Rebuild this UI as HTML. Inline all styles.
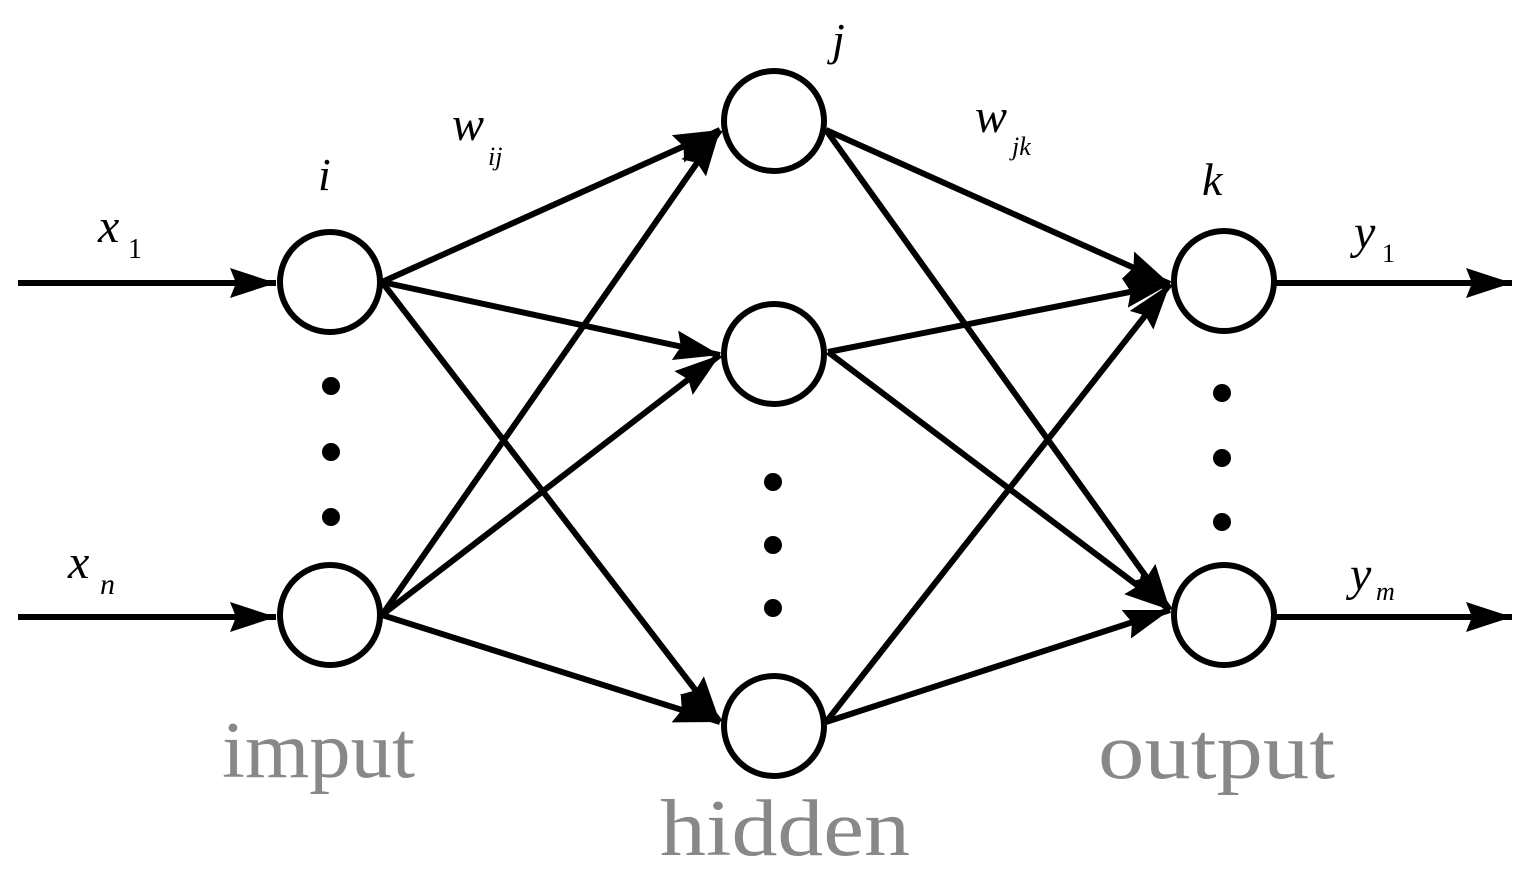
<!DOCTYPE html>
<html><head><style>html,body{margin:0;padding:0;background:#fff}svg{display:block}</style></head>
<body>
<svg width="1528" height="877" viewBox="0 0 1528 877" xmlns="http://www.w3.org/2000/svg">
<defs>
<marker id="a" markerUnits="userSpaceOnUse" markerWidth="50" markerHeight="32" refX="46" refY="15" orient="auto">
<path d="M0,0 L46,15 L0,30 L6,15 Z" fill="#000"/>
</marker>
</defs>
<g stroke="#000" stroke-width="6" fill="none">
<!-- inputs -->
<line x1="18" y1="283" x2="276" y2="283" marker-end="url(#a)"/>
<line x1="18" y1="617" x2="276" y2="617" marker-end="url(#a)"/>
<!-- input to hidden -->
<line x1="382" y1="282" x2="720" y2="130" marker-end="url(#a)"/>
<line x1="382" y1="282" x2="720" y2="355" marker-end="url(#a)"/>
<line x1="382" y1="282" x2="720" y2="722" marker-end="url(#a)"/>
<line x1="382" y1="615" x2="720" y2="130" marker-end="url(#a)"/>
<line x1="382" y1="615" x2="720" y2="355" marker-end="url(#a)"/>
<line x1="382" y1="615" x2="720" y2="722" marker-end="url(#a)"/>
<!-- hidden to output -->
<line x1="826" y1="130" x2="1170" y2="284" marker-end="url(#a)"/>
<line x1="826" y1="130" x2="1170" y2="610" marker-end="url(#a)"/>
<line x1="828" y1="352" x2="1170" y2="284" marker-end="url(#a)"/>
<line x1="828" y1="352" x2="1170" y2="610" marker-end="url(#a)"/>
<line x1="826" y1="722" x2="1170" y2="284" marker-end="url(#a)"/>
<line x1="826" y1="722" x2="1170" y2="610" marker-end="url(#a)"/>
<!-- outputs -->
<line x1="1276" y1="283" x2="1512" y2="283" marker-end="url(#a)"/>
<line x1="1276" y1="617" x2="1512" y2="617" marker-end="url(#a)"/>
</g>
<g stroke="#000" stroke-width="6" fill="#fff">
<circle cx="330" cy="282" r="50"/>
<circle cx="330" cy="615" r="50"/>
<circle cx="774" cy="121" r="50"/>
<circle cx="774" cy="354" r="50"/>
<circle cx="774" cy="726" r="50"/>
<circle cx="1224" cy="281" r="50"/>
<circle cx="1224" cy="615" r="50"/>
</g>
<g fill="#000">
<circle cx="331" cy="386" r="9"/><circle cx="331" cy="452" r="9"/><circle cx="331" cy="517" r="9"/>
<circle cx="773" cy="482" r="9"/><circle cx="773" cy="545" r="9"/><circle cx="773" cy="608" r="9"/>
<circle cx="1222" cy="393" r="9"/><circle cx="1222" cy="458" r="9"/><circle cx="1222" cy="522" r="9"/>
</g>
<g font-family="Liberation Serif, serif" font-style="italic" fill="#000">
<text x="98" y="242" font-size="48">x</text><text x="128" y="258" font-size="28" font-style="normal">1</text>
<text x="68" y="578" font-size="48">x</text><text x="100" y="594" font-size="30">n</text>
<text x="318" y="190" font-size="46">i</text>
<text x="452" y="140" font-size="48">w</text><text x="488" y="165" font-size="26">ij</text>
<text x="832" y="55" font-size="46">j</text>
<text x="975" y="132" font-size="48">w</text><text x="1012" y="155" font-size="26">jk</text>
<text x="1202" y="195" font-size="46">k</text>
<text x="1354" y="248" font-size="48">y</text><text x="1382" y="262" font-size="26" font-style="normal">1</text>
<text x="1350" y="590" font-size="48">y</text><text x="1376" y="600" font-size="26">m</text>
</g>
<g font-family="Liberation Serif, serif" font-size="80" fill="#888">
<text x="222" y="777" textLength="193" lengthAdjust="spacingAndGlyphs">imput</text>
<text x="1098" y="778" textLength="237" lengthAdjust="spacingAndGlyphs">output</text>
<text x="660" y="855" textLength="250" lengthAdjust="spacingAndGlyphs">hidden</text>
</g>
</svg>
</body></html>
